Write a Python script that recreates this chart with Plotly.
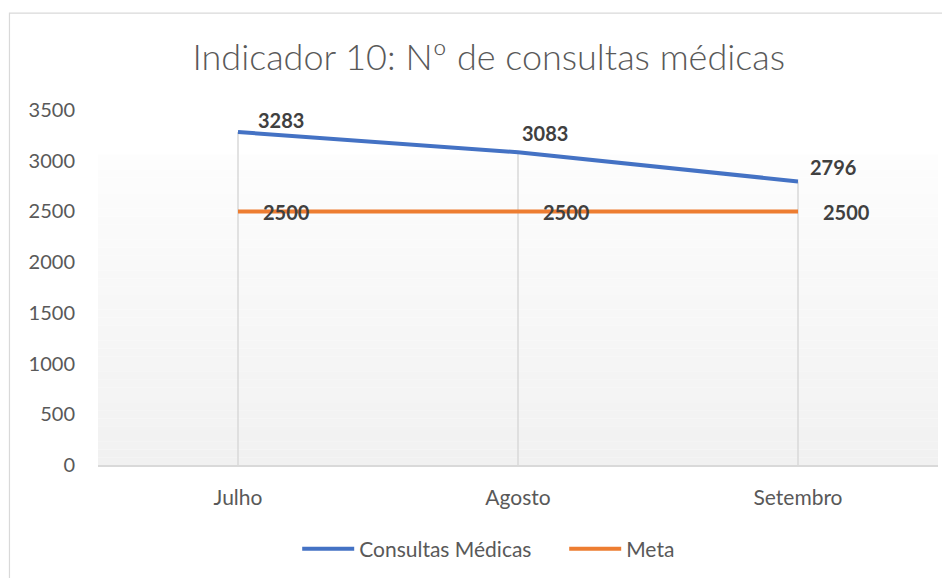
import plotly.graph_objects as go

# ---- data ----
months = ["Julho", "Agosto", "Setembro"]
consultas = [3283, 3083, 2796]
meta = [2500, 2500, 2500]
y_ticks = [0, 500, 1000, 1500, 2000, 2500, 3000, 3500]

# ---- style ----
BLUE = "#4472C4"
ORANGE = "#ED7D31"
TXT = "#595959"
LBL = "#404040"
GRID = "#D9D9D9"
FONT = "Lato"

fig = go.Figure()
fig.add_trace(go.Scatter(x=months, y=consultas, mode="lines", name="Consultas Médicas",
                         line=dict(color=BLUE, width=4)))
fig.add_trace(go.Scatter(x=months, y=meta, mode="lines", name="Meta",
                         line=dict(color=ORANGE, width=4)))

shapes = []
# gradient background of plot area (white at top -> light grey at bottom)
n = 40
top = 0.875
c_top = (253, 253, 253)
c_bot = (241, 241, 241)
for i in range(n):
    y0 = top * i / n
    y1 = top * (i + 1) / n
    t = (i + 0.5) / n
    c = tuple(round(c_bot[k] + (c_top[k] - c_bot[k]) * t) for k in range(3))
    shapes.append(dict(type="rect", xref="paper", yref="paper", x0=0, x1=1, y0=y0, y1=y1,
                       fillcolor="rgb(%d,%d,%d)" % c, line=dict(width=0), layer="below"))
# drop lines from the top series to the axis
for m, v in zip(months, consultas):
    shapes.append(dict(type="line", xref="x", yref="y", x0=m, x1=m, y0=0, y1=v,
                       line=dict(color=GRID, width=1.5), layer="below"))
# chart border
shapes.append(dict(type="rect", xref="paper", yref="paper", x0=-0.1054, x1=1.03, y0=-0.45, y1=1.273,
                   line=dict(color=GRID, width=1.2), fillcolor="rgba(0,0,0,0)"))

annotations = []
cons_shift = [(18, 12), (2, 19), (10, 14)]
for m, v, (dx, dy) in zip(months, consultas, cons_shift):
    annotations.append(dict(x=m, y=v, text=str(v), showarrow=False, xanchor="left", yanchor="middle",
                            xshift=dx, yshift=dy, font=dict(family=FONT, size=20, color=LBL, weight="bold")))
for m, v in zip(months, meta):
    annotations.append(dict(x=m, y=v, text=str(v), showarrow=False, xanchor="left", yanchor="middle",
                            xshift=23, yshift=-1, font=dict(family=FONT, size=20, color=LBL, weight="bold")))

fig.update_layout(
    width=950, height=578,
    margin=dict(l=90, r=20, t=102, b=121, autoexpand=False),
    paper_bgcolor="white", plot_bgcolor="rgba(0,0,0,0)",
    title=dict(text="Indicador 10: Nº de consultas médicas", x=0.506, xanchor="center",
               y=0.915, yanchor="middle",
               font=dict(family=FONT, size=36, color=TXT, weight=300)),
    xaxis=dict(range=[-0.5, 2.5], showgrid=False, showline=True, linecolor=GRID, linewidth=1.5,
               ticks="", tickfont=dict(family=FONT, size=21, color=TXT), ticklabelstandoff=13),
    yaxis=dict(range=[0, 3500], tickvals=y_ticks, showgrid=False, zeroline=False, showline=False,
               ticks="", tickfont=dict(family=FONT, size=20, color=TXT), ticklabelstandoff=22),
    showlegend=True,
    legend=dict(orientation="h", xref="paper", x=0.555, xanchor="center",
                yref="paper", y=-0.237, yanchor="middle",
                font=dict(family=FONT, size=21, color=TXT), itemwidth=52,
                entrywidth=200, bgcolor="rgba(0,0,0,0)"),
    shapes=shapes, annotations=annotations,
)

fig.write_html("out.html")
